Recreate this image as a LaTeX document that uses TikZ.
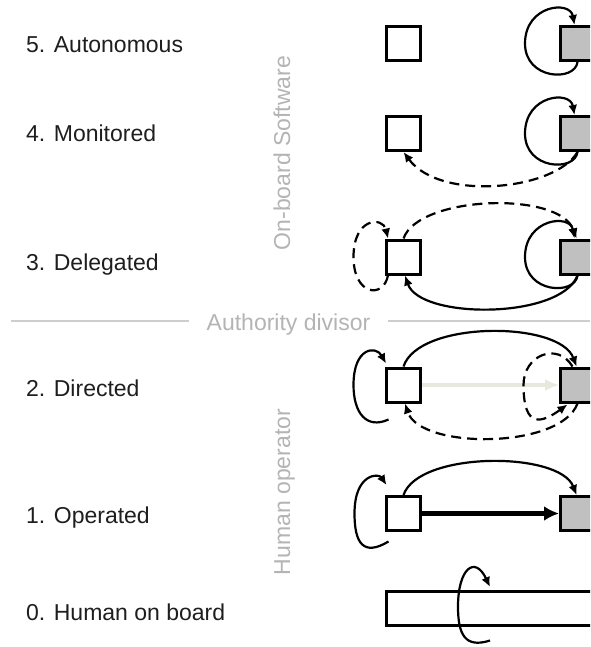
\documentclass[tikz,border=0pt]{standalone}
\usepackage{fontspec}
\setmainfont{Liberation Sans}
\usetikzlibrary{arrows.meta,calc}
\definecolor{graybox}{RGB}{192,192,192}
\definecolor{labeltext}{RGB}{30,30,30}
\definecolor{sidegray}{RGB}{180,180,180}
\definecolor{divline}{RGB}{205,205,205}
\definecolor{faint}{RGB}{232,232,222}
\begin{document}
\begin{tikzpicture}[x=1pt,y=-1pt,
  wbox/.style={draw=black,line width=3pt,fill=white,minimum width=34pt,minimum height=34pt,inner sep=0pt},
  gbox/.style={wbox,fill=graybox},
  lbl/.style={anchor=base west,font=\fontsize{23}{27}\selectfont,text=labeltext,inner sep=0pt},
  side/.style={anchor=base,rotate=90,font=\fontsize{23}{27}\selectfont,text=sidegray,inner sep=0pt},
  arr/.style={line width=2.2pt,-{Latex[length=10pt,width=9pt]}},
  darr/.style={arr,dash pattern=on 10pt off 6pt},
]
\clip (0,0) rectangle (590,647);
\fill[white] (0,0) rectangle (590,647);

% labels
\node[lbl] (l5) at (26,52.7) {5. Autonomous};
\node[lbl] (l4) at (26,141.7) {4. Monitored};
\node[lbl] (l3) at (26,270) {3. Delegated};
\node[lbl] (l2) at (26,396.7) {2. Directed};
\node[lbl] (l1) at (26,523) {1. Operated};
\node[lbl] (l0) at (26,620) {0. Human on board};

% side texts
\node[side] (sw) at (290,153) {On-board Software};
\node[side] (ho) at (290,492) {Human operator};

% authority divisor
\node[anchor=base,font=\fontsize{23}{27}\selectfont,text=sidegray,inner xsep=17pt,inner ysep=0pt] (ad) at (288.5,330) {Authority divisor};
\coordinate (dl) at (11,321);
\coordinate (dr) at (590,321);
\draw[divline,line width=2pt] (dl) -- (dl -| ad.west);
\draw[divline,line width=2pt] (ad.east |- dr) -- (dr);

% boxes
\node[wbox] (w5) at (403.5,43.5) {};
\node[gbox] (g5) at (577.5,43.5) {};
\node[wbox] (w4) at (403.5,133.5) {};
\node[gbox] (g4) at (577.5,133.5) {};
\node[wbox] (w3) at (403.5,257) {};
\node[gbox] (g3) at (577.5,257) {};
\node[wbox] (w2) at (403.5,385) {};
\node[gbox] (g2) at (577.5,385) {};
\node[wbox] (w1) at (403.5,513.5) {};
\node[gbox] (g1) at (577.5,513.5) {};
\node[wbox,anchor=west,minimum width=240pt] (r0) at (384.5,608.5) {};

% row 5
\draw[arr] (g5.south) .. controls +(-2.5,20) and +(0,36.5) .. ($(g5.center)+(-52.5,0)$) .. controls +(0,-38.5) and +(-4.5,-25) .. ($(g5.north)+(-3,0)$);

% row 4
\draw[arr] (g4.south) .. controls +(-2.5,20) and +(0,36.5) .. ($(g4.center)+(-52.5,0)$) .. controls +(0,-38.5) and +(-4.5,-25) .. ($(g4.north)+(-3,0)$);
\draw[darr] (g4.south) .. controls +(-22,38) and +(37,50) .. (w4.south);

% row 3
\draw[arr] (g3.south) .. controls +(-2.5,20) and +(0,36.5) .. ($(g3.center)+(-52.5,0)$) .. controls +(0,-38.5) and +(-4.5,-25) .. ($(g3.north)+(-3,0)$);
\draw[darr] (w3.north) .. controls +(15,-43) and +(-17,-48) .. ($(g3.north)+(-1,0)$);
\draw[darr] ($(w3.south west)+(3,0)$) .. controls +(-5,24) and +(0,38) .. ($(w3.center)+(-50,0)$) .. controls +(0,-40) and +(-5,-22) .. ($(w3.north west)+(3,0)$);
\draw[arr] (g3.south) .. controls +(-17,44) and +(15,44) .. ($(w3.south)+(1.5,0)$);

% row 2
\draw[faint,line width=4pt,-{Latex[length=14pt,width=12pt]}] (w2.east) -- (g2.west);
\draw[arr] ($(w2.south west)+(3.5,16)$) .. controls +(-22,10) and +(0,28) .. ($(w2.center)+(-50,0)$) .. controls +(0,-38) and +(-10,-18) .. ($(w2.north west)+(1,-3)$);
\draw[arr] (w2.north) .. controls +(15,-46) and +(-17,-46) .. ($(g2.north)+(-1,0)$);
\draw[darr] ($(g2.north)+(-5,0)$) .. controls +(-15,-25) and +(0,-30) .. ($(g2.center)+(-54,0)$) .. controls +(0,45) and +(-25,18) .. ($(g2.south)+(-10,1)$);
\draw[darr] (g2.south) .. controls +(-17,46) and +(15,46) .. ($(w2.south)+(1.5,0)$);

% row 1
\draw[arr] ($(w1.south west)+(3.5,9.5)$) .. controls +(-25,15) and +(0,30) .. ($(w1.center)+(-49,0)$) .. controls +(0,-40) and +(-8,-12) .. ($(w1.north west)+(1.5,-10)$);
\draw[arr] (w1.north) .. controls +(15,-44) and +(-17,-44) .. ($(g1.north)+(-1,0)$);
\draw[line width=5pt,-{Latex[length=15pt,width=15pt]}] (w1.east) -- (g1.west);

% row 0
\coordinate (r0s) at ($(r0.north west)+(105.5,50.5)$);
\draw[arr] (r0s) .. controls +(-25,8) and +(0,28) .. ($(r0.north west)+(73.5,16.5)$) .. controls +(0,-38) and +(-15,-32) .. ($(r0.north west)+(105.5,-3)$);
\end{tikzpicture}
\end{document}
